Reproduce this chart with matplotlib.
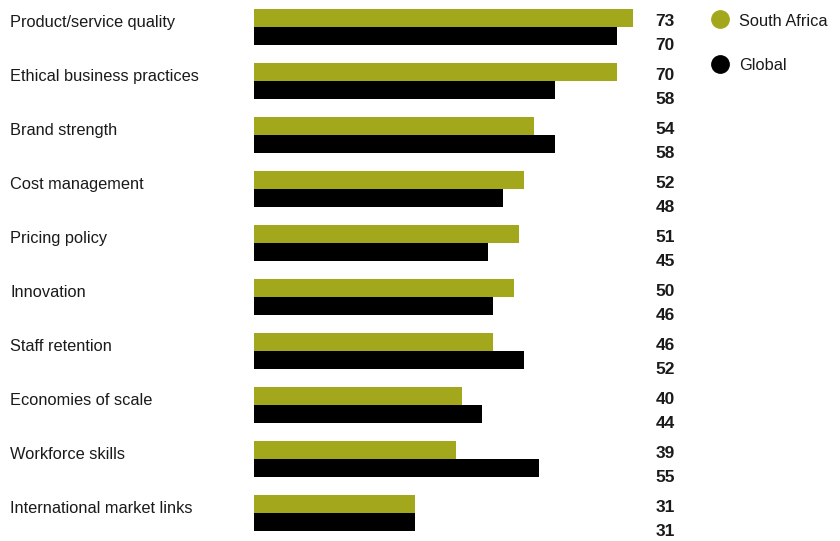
import matplotlib
matplotlib.use("Agg")
import matplotlib.pyplot as plt
from matplotlib.lines import Line2D
from matplotlib.transforms import blended_transform_factory
import numpy as np

categories = [
    "Product/service quality",
    "Ethical business practices",
    "Brand strength",
    "Cost management",
    "Pricing policy",
    "Innovation",
    "Staff retention",
    "Economies of scale",
    "Workforce skills",
    "International market links",
]
south_africa = [73, 70, 54, 52, 51, 50, 46, 40, 39, 31]
global_vals = [70, 58, 58, 48, 45, 46, 52, 44, 55, 31]

OLIVE = "#A3A71B"
BLACK = "#000000"
TEXT = "#1a1a1a"
FONT = ["Liberation Sans", "DejaVu Sans"]

W, H = 840, 541
fig = plt.figure(figsize=(W / 100, H / 100), dpi=100)

x0_px, scale = 254, 5.19          # zero line and pixels per unit
xmax = 73
ax = fig.add_axes([x0_px / W, 1 / H, xmax * scale / W, 540 / H])
ax.set_xlim(0, xmax)
ax.set_ylim(9.5, -0.5)
ax.axis("off")

y = np.arange(len(categories))
bh = 1 / 3
ax.barh(y - bh / 2, south_africa, height=bh, color=OLIVE, linewidth=0)
ax.barh(y + bh / 2, global_vals, height=bh, color=BLACK, linewidth=0)

tr = blended_transform_factory(fig.transFigure, ax.transData)
for i, (cat, sa, gl) in enumerate(zip(categories, south_africa, global_vals)):
    fig.text(10 / W, i - 0.08, cat, transform=tr, ha="left", va="center",
             fontsize=11.8, color=TEXT, family=FONT)
    fig.text(675 / W, i - 0.10, str(sa), transform=tr, ha="right", va="center",
             fontsize=12.5, fontweight="bold", color=TEXT, family=FONT)
    fig.text(675 / W, i + 0.345, str(gl), transform=tr, ha="right", va="center",
             fontsize=12.5, fontweight="bold", color=TEXT, family=FONT)

# legend
for label, color, ypx in [("South Africa", OLIVE, 19), ("Global", BLACK, 64)]:
    fig.add_artist(Line2D([720 / W], [1 - ypx / H], marker="o", markersize=12.5,
                          color=color, linestyle="none", transform=fig.transFigure))
    fig.text(739 / W, 1 - (ypx + 2) / H, label, ha="left", va="center",
             fontsize=11.8, color=TEXT, family=FONT)

fig.savefig("out.png", dpi=100)
